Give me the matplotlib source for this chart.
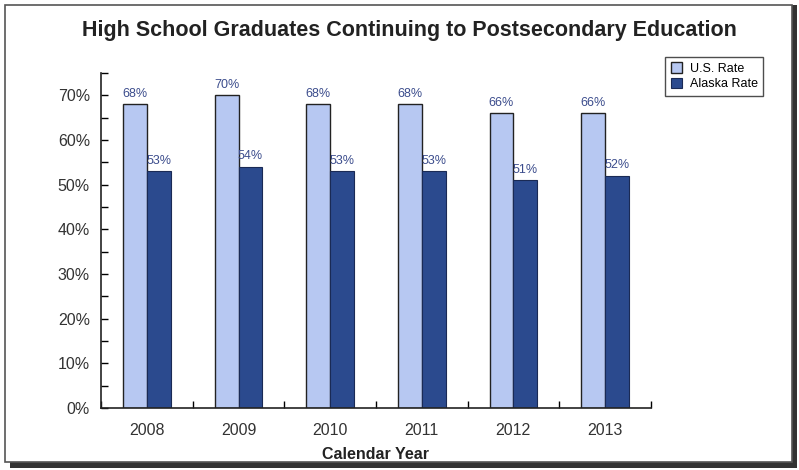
import matplotlib.pyplot as plt
import numpy as np
from matplotlib.patches import Rectangle

plt.rcParams['font.family'] = ['Liberation Sans', 'DejaVu Sans']

years = ['2008', '2009', '2010', '2011', '2012', '2013']
us_rate = [68, 70, 68, 68, 66, 66]
alaska_rate = [53, 54, 53, 53, 51, 52]

us_color = '#b7c8f2'
ak_color = '#2b4a8e'
label_color = '#3b4c8c'

fig = plt.figure(figsize=(7.99, 4.70), dpi=100)

# outer frame with a shadow along the bottom/right
fig.patches.append(Rectangle((0.012, 0.005), 0.985, 0.985, transform=fig.transFigure,
                             facecolor='#333333', edgecolor='none', zorder=0))
fig.patches.append(Rectangle((0.006, 0.018), 0.985, 0.972, transform=fig.transFigure,
                             facecolor='white', edgecolor='#555555', linewidth=1.2, zorder=1))

ax = fig.add_axes([0.1265, 0.1319, 0.688, 0.7128])
ax.set_zorder(2)
ax.patch.set_alpha(0)

x = np.arange(len(years))
w = 0.26
ax.bar(x - w / 2, us_rate, w, color=us_color, edgecolor='#222222', linewidth=1.0, label='U.S. Rate')
ax.bar(x + w / 2, alaska_rate, w, color=ak_color, edgecolor='#1a2a55', linewidth=0.8, label='Alaska Rate')

for i in range(len(years)):
    ax.text(x[i] - w / 2, us_rate[i] + 1.0, f'{us_rate[i]}%', ha='center', va='bottom',
            fontsize=9, color=label_color)
    ax.text(x[i] + w / 2, alaska_rate[i] + 1.0, f'{alaska_rate[i]}%', ha='center', va='bottom',
            fontsize=9, color=label_color)

ax.set_xlim(-0.5, len(years) - 0.5)
ax.set_ylim(0, 75)
ax.set_yticks(np.arange(0, 71, 10))
ax.set_yticklabels([f'{v}%' for v in range(0, 71, 10)])
ax.set_yticks(np.arange(5, 76, 10), minor=True)
ax.set_xticks(np.arange(-0.5, len(years), 1.0), minor=True)
ax.set_xticks(x)
ax.set_xticklabels(years)
ax.tick_params(axis='y', which='both', direction='in', length=5, width=1.0, labelsize=11.5,
               labelcolor='#333333', pad=8)
ax.tick_params(axis='x', which='major', length=0, labelsize=11.5, labelcolor='#333333', pad=11)
ax.tick_params(axis='x', which='minor', direction='in', length=5, width=1.0)

for side in ['top', 'right']:
    ax.spines[side].set_visible(False)
for side in ['left', 'bottom']:
    ax.spines[side].set_linewidth(1.2)
    ax.spines[side].set_color('#222222')

ax.set_xlabel('Calendar Year', fontsize=11.5, fontweight='bold', color='#222222', labelpad=6)

fig.text(0.512, 0.935, 'High School Graduates Continuing to Postsecondary Education',
         ha='center', va='center', fontsize=15.5, fontweight='bold', color='#222222', zorder=3)

leg = fig.legend(loc='upper left', bbox_to_anchor=(0.825, 0.893), fontsize=9, frameon=True,
                 fancybox=False, edgecolor='#222222', handlelength=0.9, handleheight=0.9,
                 handletextpad=0.6, borderpad=0.45, labelspacing=0.25)
leg.get_frame().set_linewidth(1.0)
leg.set_zorder(3)

fig.savefig('out.png', dpi=100)
